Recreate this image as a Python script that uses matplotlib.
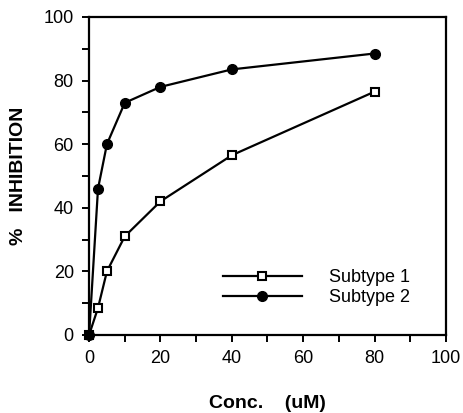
import numpy as np
import matplotlib.pyplot as plt
from matplotlib.ticker import MultipleLocator

plt.rcParams['font.family'] = ['Liberation Sans', 'DejaVu Sans']

# data
conc = [0, 2.5, 5, 10, 20, 40, 80]
subtype1 = [0, 8.5, 20, 31, 42, 56.5, 76.5]
subtype2 = [0, 46, 60, 73, 78, 83.5, 88.5]
xticks = [0, 20, 40, 60, 80, 100]
yticks = [0, 20, 40, 60, 80, 100]

fig = plt.figure(figsize=(4.64, 4.13), dpi=100)
ax = fig.add_axes([0.192, 0.189, 0.769, 0.770])

ax.plot(conc, subtype1, '-s', color='black', lw=1.6, ms=6,
        mfc='white', mec='black', mew=1.5, label='Subtype 1', clip_on=False)
ax.plot(conc, subtype2, '-o', color='black', lw=1.6, ms=7,
        mfc='black', mec='black', label='Subtype 2', clip_on=False)

ax.set_xlim(0, 100)
ax.set_ylim(0, 100)
ax.set_xticks(xticks)
ax.set_yticks(yticks)
ax.xaxis.set_minor_locator(MultipleLocator(10))
ax.yaxis.set_minor_locator(MultipleLocator(10))
ax.tick_params(which='both', direction='out', width=1.4, labelsize=13, pad=6)
ax.tick_params(which='major', length=5)
ax.tick_params(which='minor', length=5)
for s in ax.spines.values():
    s.set_linewidth(1.6)

ax.set_xlabel('Conc.    (uM)', fontsize=14, fontweight='bold', labelpad=20)
ax.set_ylabel('%   INHIBITION', fontsize=14, fontweight='bold', labelpad=12)

ax.legend(loc='lower right', bbox_to_anchor=(0.945, 0.04), frameon=False,
          fontsize=13, handlelength=4.4, handletextpad=1.5, labelspacing=0.15)

fig.savefig('out.png', dpi=100)
